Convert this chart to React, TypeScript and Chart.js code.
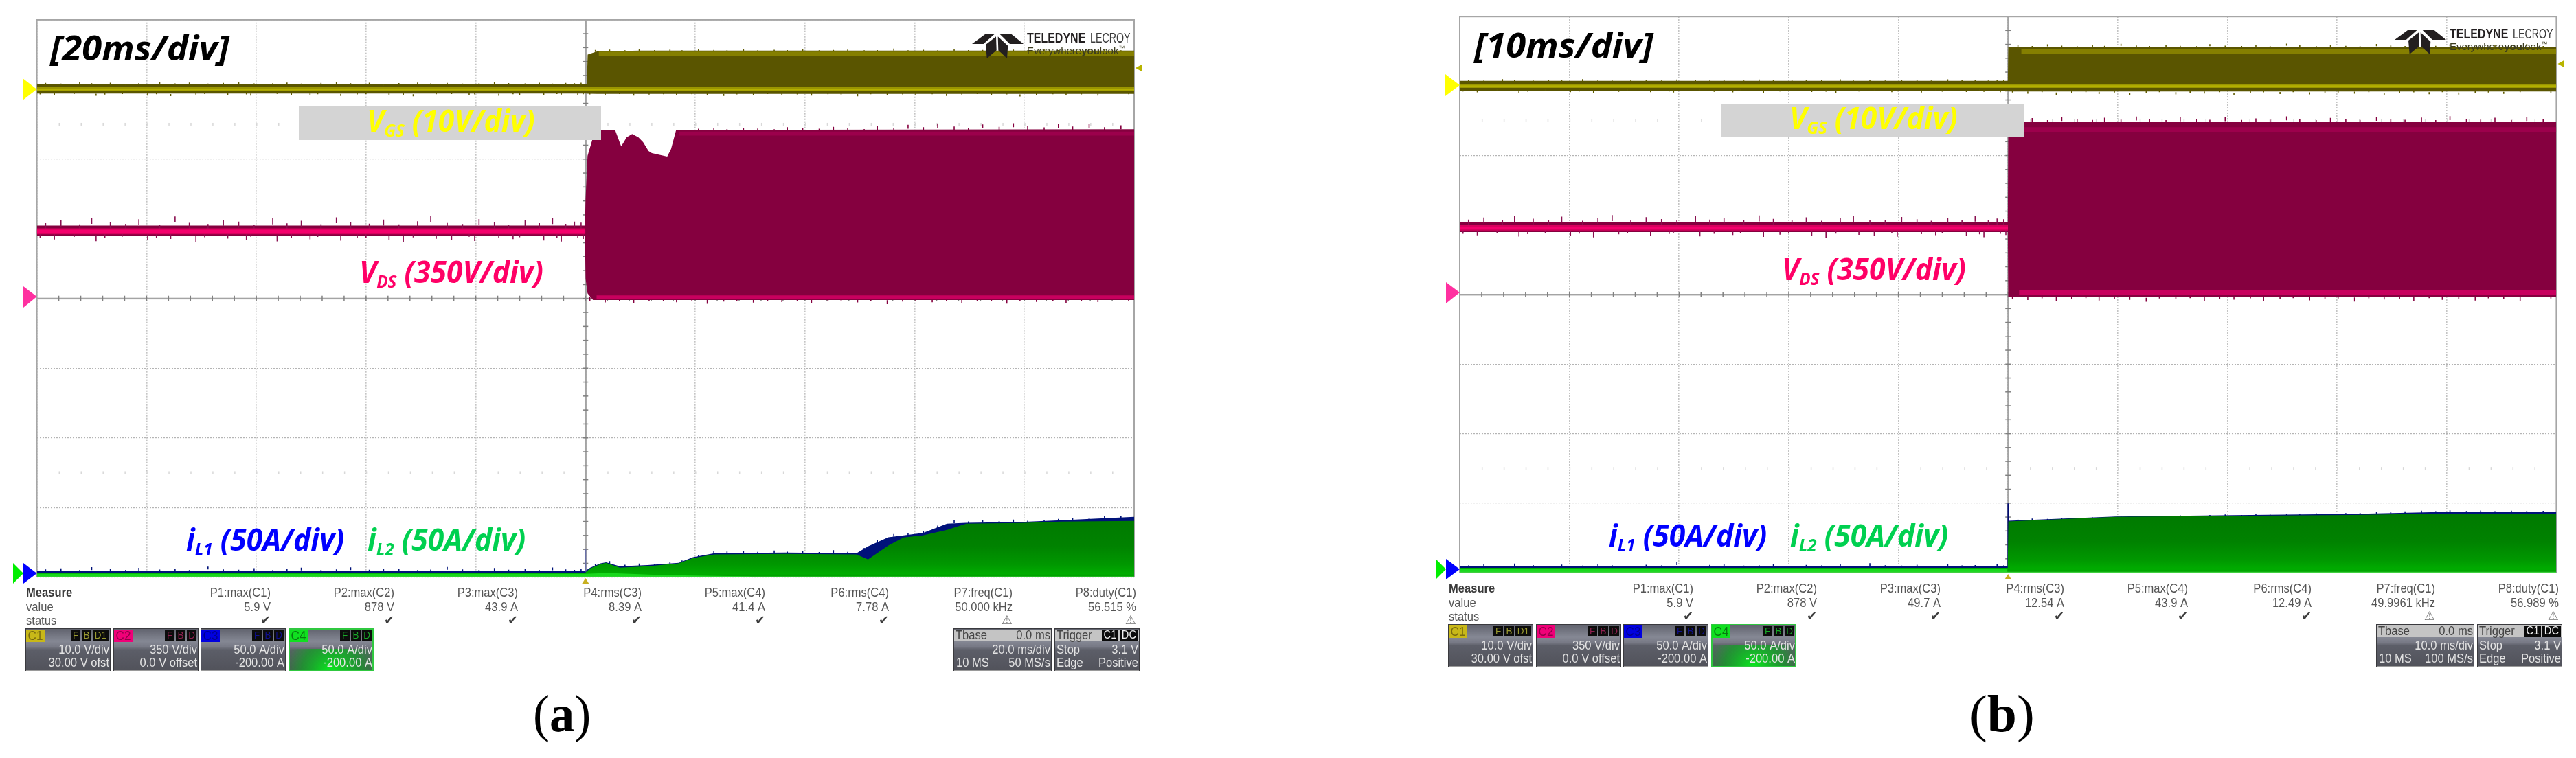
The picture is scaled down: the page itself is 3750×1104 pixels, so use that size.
import React, { useEffect, useRef } from "react";
import { Chart, registerables } from "chart.js";

Chart.register(...registerables);

// ---------- time lists for edge noise, in screen divisions from the trigger ----------
const upperDivsPre = [-4.92,-4.78,-4.61,-4.5,-4.33,-4.19,-4.07,-3.88,-3.74,-3.61,-3.44,-3.3,-3.16,-3.02,-2.85,-2.72,-2.59,-2.41,-2.27,-2.14,-1.97,-1.84,-1.7,-1.53,-1.41,-1.26,-1.12,-0.97,-0.83,-0.7,-0.55,-0.42,-0.3,-0.18,-0.1,-0.04];
const lowerDivsPre = [-4.97,-4.84,-4.66,-4.46,-4.38,-4.22,-3.99,-3.91,-3.78,-3.55,-3.47,-3.26,-3.09,-3.05,-2.81,-2.68,-2.51,-2.44,-2.23,-2.08,-2.0,-1.79,-1.66,-1.57,-1.36,-1.22,-1.06,-1.01,-0.79,-0.66,-0.6,-0.38,-0.26,-0.22,-0.07,-0.02];
const upperDivsPost = [0.09,0.22,0.36,0.49,0.63,0.77,0.88,1.03,1.17,1.29,1.44,1.57,1.72,1.84,1.98,2.13,2.26,2.39,2.54,2.66,2.81,2.94,3.08,3.21,3.36,3.49,3.62,3.77,3.9,4.03,4.18,4.31,4.44,4.59,4.73,4.88];
const lowerDivsPost = [0.04,0.18,0.31,0.44,0.58,0.71,0.83,0.97,1.11,1.26,1.38,1.53,1.66,1.79,1.93,2.06,2.21,2.33,2.48,2.6,2.75,2.89,3.01,3.16,3.29,3.43,3.57,3.7,3.84,3.96,4.11,4.26,4.38,4.52,4.67,4.95];

// ---------- panel (a), 20 ms/div ----------
const c1TimesA = [-100,-50,0.25,0.4,2.1,10,40,100];
const c1TopA = [0.72,0.72,0.72,5.0,5.45,5.55,5.55,5.55];
const c1BottomA = [-0.6,-0.6,-0.6,-0.62,-0.64,-0.64,-0.64,-0.64];
const c1TopPreA = [0.92,0.84,1.01,0.88,0.95,0.82,0.9,1.04,0.86,0.97,0.83,0.93,1.0,0.85,0.89,0.98,0.84,0.92,1.03,0.87,0.95,0.82,0.91,0.99,0.86,0.94,0.83,0.88,1.02,0.9,0.85,0.96,0.84,0.92,0.87,0.95];
const c1BotPreA = [-0.72,-0.85,-0.68,-0.92,-0.75,-0.66,-0.88,-0.7,-0.97,-0.74,-0.67,-0.83,-0.71,-0.9,-0.65,-0.78,-0.86,-0.69,-0.94,-0.73,-0.68,-0.81,-0.76,-0.99,-0.7,-0.66,-0.84,-0.72,-0.91,-0.69,-0.77,-0.87,-0.67,-0.74,-0.82,-0.7];
const c1TopPostA = [5.66,5.72,5.61,5.78,5.64,5.7,5.6,5.83,5.65,5.62,5.74,5.6,5.68,5.63,5.8,5.61,5.66,5.72,5.6,5.64,5.85,5.62,5.68,5.6,5.76,5.63,5.66,5.6,5.7,5.62,5.79,5.64,5.6,5.67,5.73,5.61];
const c1BotPostA = [-0.72,-0.8,-0.68,-0.9,-0.74,-0.7,-0.85,-0.69,-0.78,-0.95,-0.71,-0.76,-0.68,-0.83,-0.73,-0.88,-0.7,-0.75,-0.98,-0.69,-0.79,-0.72,-0.86,-0.7,-0.93,-0.74,-0.68,-0.81,-0.71,-1.02,-0.76,-0.69,-0.84,-0.73,-0.89,-0.7];

const c2TimesA = [-100,-50,-0.1,0.02,0.375,1.38,2.75,5.38,6.51,7.51,8.51,9.64,10.5,11.5,12.1,14.9,15.6,16.5,40,100];
const c2TopA = [366,366,366,500,716,809,844,847,764,809,826,809,785,740,730,713,751,844,847,850];
const c2BottomA = [316,316,316,100,26,-8,-8,-8,-8,-8,-8,-8,-8,-8,-8,-8,-8,-8,-8,-8];
const c2TopPreA = [378,392,372,405,384,375,398,370,412,380,374,395,386,371,402,377,390,373,408,382,376,396,372,388,415,379,374,399,383,371,393,378,404,375,386,381];
const c2BotPreA = [305,296,309,288,303,311,292,306,299,284,308,301,294,310,287,304,297,309,290,302,306,293,283,307,300,295,310,289,304,298,308,291,303,286,306,299];
const c2TopPostA = [null,null,null,null,null,null,null,852,856,851,858,853,850,860,855,852,862,854,851,866,858,872,860,878,864,858,874,862,880,866,859,876,864,878,860,870];
const c2BotPostA = [-14,-20,-12,-24,-15,-11,-19,-13,-27,-16,-12,-21,-14,-18,-11,-25,-15,-13,-20,-12,-29,-16,-14,-19,-11,-23,-15,-13,-26,-12,-17,-14,-22,-11,-18,-13];

const c34TimesA = [-100,-0.1,0.875,2.75,3.75,6.26,11.3,17,19.6,23.5,36.4,49.4,51.5,55.2,58,61.5,65.9,69.4,79.4,86.7,100];
const c3TopA = [4.4,4.4,6.9,9.9,10.7,7.9,8.7,10.3,14.4,17.2,17.7,17.2,22.2,28.7,30,31.7,38.4,39,39.6,40.9,43.3];
const c4TopA = [3,3,6.4,9.4,10.3,6.9,7.9,9.9,13.8,16.3,16.7,16.3,12.8,22.7,28.6,30,34,38.4,38.9,39.9,40.4];
const c3TopPreA = [5.6,6.4,5.2,7.2,5.8,5.3,6.8,5.5,6.1,5.2,7.6,5.7,5.4,6.5,5.2,5.9,6.9,5.3,5.6,7.1,5.4,5.8,6.3,5.2,5.5,7.4,5.7,5.3,6.6,5.4,6.0,5.2,7.0,5.6,5.3,6.2];
const c3TopPostA = [9.5,11.6,9,9.8,9.6,10.8,12,15.6,18.8,18.4,19,18.2,19.2,18.3,18.8,18.1,19.4,18.2,21,26.5,31,31.6,33,37,40.8,40,41,40.2,41.4,40.5,41.2,41.8,42.6,42.7,43.9,43.8];
const c4BrightTimesA = [-100,-0.1,4,14,30];
const c4BrightTopA = [2.4,2.4,3,1.6,0.6];
const c3SpikeA = [4.4, 20.5];

const measureValuesA = ["5.9 V","878 V","43.9 A","8.39 A","41.4 A","7.78 A","50.000 kHz","56.515 %"];

// ---------- panel (b), 10 ms/div ----------
const c1TimesB = [-50,-25,-0.02,0.02,25,50];
const c1TopB = [0.75,0.75,0.75,5.66,5.66,5.66];
const c1BottomB = [-0.7,-0.7,-0.7,-0.8,-0.8,-0.8];
const c1TopPreB = [0.88,0.8,0.98,0.82,0.79,0.92,0.81,1.0,0.84,0.79,0.9,0.83,0.8,0.95,0.82,0.79,0.86,0.8,0.93,0.81,0.79,0.89,0.82,0.97,0.8,0.84,0.79,0.91,0.83,0.8,0.96,0.81,0.85,0.79,0.87,0.82];
const c1BotPreB = [-0.8,-0.92,-0.76,-0.98,-0.82,-0.75,-0.9,-0.78,-1.02,-0.84,-0.76,-0.88,-0.79,-0.95,-0.75,-0.83,-0.91,-0.77,-0.99,-0.8,-0.76,-0.86,-0.81,-1.0,-0.78,-0.75,-0.89,-0.8,-0.94,-0.76,-0.82,-0.87,-0.75,-0.84,-0.9,-0.78];
const c1TopPostB = [5.85,5.76,6.0,5.8,5.74,5.95,5.78,6.08,5.82,5.75,5.92,5.79,5.74,6.02,5.8,5.76,5.9,5.74,6.1,5.84,5.76,5.96,5.78,5.74,6.04,5.82,5.75,5.9,5.77,6.0,5.8,5.74,5.94,5.78,6.06,5.76];
const c1BotPostB = [-0.95,-1.1,-0.9,-1.25,-1.0,-0.88,-1.15,-0.94,-1.3,-1.02,-0.9,-1.2,-0.96,-1.08,-0.88,-1.28,-0.98,-0.92,-1.16,-0.9,-1.22,-1.0,-0.94,-1.12,-0.88,-1.3,-1.04,-0.92,-1.18,-0.9,-1.24,-0.98,-0.94,-1.14,-0.88,-1.06];

const c2TimesB = [-50,-25,-0.02,0.02,25,50];
const c2TopB = [366,366,366,871,871,871];
const c2BottomB = [315,315,315,-14,-14,-14];
const c2TopPreB = [378,388,374,396,382,375,392,372,386,400,376,390,380,373,395,378,386,374,398,381,376,389,372,384,394,377,374,391,379,372,387,376,397,374,383,379];
const c2BotPreB = [306,298,310,292,304,311,295,307,288,303,309,297,305,312,293,306,300,310,290,302,308,296,286,307,301,295,311,291,304,299,309,294,303,289,306,300];
const c2TopPostB = [880,888,878,894,883,879,890,881,896,884,878,892,882,880,893,879,887,881,897,885,878,889,882,879,895,883,880,891,878,898,884,881,890,879,894,882];
const c2BotPostB = [-22,-28,-19,-33,-23,-18,-30,-21,-27,-36,-20,-24,-18,-31,-22,-26,-19,-34,-21,-18,-29,-23,-20,-35,-19,-25,-22,-32,-18,-27,-21,-30,-19,-24,-33,-20];

const c34TimesB = [-50,-0.03,0.03,9.8,20.6,31.4,38.6,50];
const c3TopB = [4.4,4.4,37.3,40.4,41.4,42.2,43.4,43.4];
const c4TopB = [3.4,3.4,36.8,40.1,40.9,41.5,42.4,42.4];
const c3TopPreB = [5.2,6,5,6.6,5.4,5,5.8,5.1,6.2,5.3,5,5.7,5.2,7.4,5,5.5,6,5.1,5.3,6.4,5,5.6,5.2,5.9,5,6.8,5.3,5.1,5.7,5,6.1,5.2,5.4,5,6.3,5.2];
const c3TopPostB = [38.2,38.9,38.6,39.2,39.0,39.8,39.4,40.4,40.1,40.9,40.6,41.2,41.0,41.5,41.8,41.5,42.0,41.7,42.3,42.1,42.7,42.5,42.9,43.0,43.6,43.9,44.1,44.6,44.2,44.8,44.3,44.7,44.2,44.6,44.3,44.5];
const c4BrightTimesB = [-50,-0.05];
const c4BrightTopB = [2.9,2.9];
const c3SpikeB = [4.4, 49.7];

const measureValuesB = ["5.9 V","878 V","49.7 A","12.54 A","43.9 A","12.49 A","49.9961 kHz","56.989 %"];

// ---------- shared text ----------
const measureNames = ["P1:max(C1)","P2:max(C2)","P3:max(C3)","P4:rms(C3)","P5:max(C4)","P6:rms(C4)","P7:freq(C1)","P8:duty(C1)"];
const measureStatus = ["✔","✔","✔","✔","✔","✔","⚠","⚠"];
const channelLabels = ["C1","C2","C3","C4"];
const channelFlags = [["F","B","D1"],["F","B","D"],["F","B","D"],["F","B","D"]];
const channelScales = ["10.0 V/div","350 V/div","50.0 A/div","50.0 A/div"];
const channelOffsets = ["30.00 V ofst","0.0 V offset","-200.00 A","-200.00 A"];

const LAYOUT = { width: 1700, height: 1110 };
const SANS = '"Liberation Sans"';
const LABEL = '"Open Sans"';
const SERIF = '"Liberation Serif"';
const LABEL_SX = 0.97;

type Pt = { x: number; y: number | null };
const pts = (xs: number[], ys: number[] | number): Pt[] =>
  xs.map((x, i) => ({ x, y: typeof ys === "number" ? ys : ys[i] }));

function spikes(divs: number[], tips: (number | null)[], drop: number, msPerDiv: number): Pt[] {
  const out: Pt[] = [];
  divs.forEach((d, i) => {
    const tip = tips[i];
    if (tip == null) return;
    const x = d * msPerDiv;
    out.push({ x, y: tip - drop }, { x, y: tip }, { x, y: null });
  });
  return out;
}

function band(xs: number[], top: number[] | number, bottom: number[] | number, color: any, axis: string) {
  const base = { type: "line", yAxisID: axis, pointRadius: 0, tension: 0 };
  return [
    { ...base, data: pts(xs, top), borderWidth: 0, fill: false },
    { ...base, data: pts(xs, bottom), borderWidth: 0, fill: "-1", backgroundColor: color },
  ];
}

function spikeSet(data: Pt[], color: string, axis: string) {
  return { type: "line", yAxisID: axis, pointRadius: 0, tension: 0, data, borderWidth: 1.6, borderColor: color, fill: false, spanGaps: false };
}

function greenFill(c: any) {
  const { chart } = c;
  const s = chart.scales.c3;
  if (!s || !chart.chartArea) return "#008000";
  const g = chart.ctx.createLinearGradient(0, s.getPixelForValue(50), 0, s.getPixelForValue(0));
  g.addColorStop(0, "#007600");
  g.addColorStop(0.55, "#008200");
  g.addColorStop(0.82, "#009800");
  g.addColorStop(0.95, "#00ac00");
  g.addColorStop(1, "#009c00");
  return g;
}

function T(ctx: CanvasRenderingContext2D, text: string, x: number, y: number, font: string, color: string, align: CanvasTextAlign = "left", sx = 1) {
  ctx.save();
  ctx.translate(x, y);
  ctx.scale(sx, 1);
  ctx.font = font;
  ctx.fillStyle = color;
  ctx.textAlign = align;
  ctx.textBaseline = "middle";
  ctx.fillText(text, 0, 0);
  ctx.restore();
}

type Span = { t: string; size: number; dy?: number; weight?: string; sx?: number };
function spans(ctx: CanvasRenderingContext2D, x: number, baseY: number, parts: Span[], color: string, family: string, style: string, defaultSx: number) {
  let cx = x;
  ctx.textBaseline = "alphabetic";
  ctx.textAlign = "left";
  parts.forEach((p) => {
    const s = p.sx ?? defaultSx;
    ctx.save();
    ctx.font = `${style} ${p.weight ?? "700"} ${p.size}px ${family}`;
    ctx.fillStyle = color;
    const w = ctx.measureText(p.t).width;
    ctx.translate(cx, baseY + (p.dy ?? 0));
    ctx.scale(s, 1);
    ctx.fillText(p.t, 0, 0);
    ctx.restore();
    cx += w * s;
  });
}

function poly(ctx: CanvasRenderingContext2D, p: number[][], color: string) {
  ctx.beginPath();
  p.forEach(([x, y], i) => (i ? ctx.lineTo(x, y) : ctx.moveTo(x, y)));
  ctx.closePath();
  ctx.fillStyle = color;
  ctx.fill();
}

function panelBox(ctx: CanvasRenderingContext2D, x0: number, x1: number, y0: number, y1: number) {
  const g = ctx.createLinearGradient(0, y0, 0, y1);
  g.addColorStop(0, "#5f616c");
  g.addColorStop(0.3, "#858894");
  g.addColorStop(0.42, "#787a86");
  g.addColorStop(0.5, "#5c5e68");
  g.addColorStop(1, "#51525a");
  ctx.fillStyle = g;
  ctx.fillRect(x0, y0, x1 - x0, y1 - y0);
  ctx.fillStyle = "#9a9a9a";
  ctx.fillRect(x0, y1 - 2, x1 - x0, 2);
  ctx.strokeStyle = "#3a3a3e";
  ctx.lineWidth = 1;
  ctx.strokeRect(x0 + 0.5, y0 + 0.5, x1 - x0 - 1, y1 - y0 - 1);
}

const chanColors = [
  { badge: "#c8b818", ink: "#7a6c10", flag: "#9a9a30" },
  { badge: "#f00078", ink: "#900048", flag: "#902050" },
  { badge: "#0000e0", ink: "#000090", flag: "#101090" },
  { badge: "#10e020", ink: "#087a10", flag: "#18a828" },
];

function makePlugin(p: any) {
  return {
    id: "scope",
    beforeDatasetsDraw(chart: any) {
      const { ctx, chartArea: a, scales } = chart;
      const cx = scales.x.getPixelForValue(0);
      const cy = scales.y.getPixelForValue(0);
      const divX = (a.right - a.left) / 10;
      const divY = (a.bottom - a.top) / 8;
      ctx.save();
      ctx.fillStyle = "#d8d8d8";
      [875, -875].forEach((v) => {
        const yy = scales.y.getPixelForValue(v);
        for (let i = 1; i < 50; i++) ctx.fillRect(a.left + (i * divX) / 5, yy - 2, 1.5, 4);
      });
      ctx.fillStyle = "#a4a4a4";
      ctx.fillRect(a.left, cy - 1, a.right - a.left, 2.4);
      ctx.fillRect(cx - 1, a.top, 2.6, a.bottom - a.top);
      ctx.fillStyle = "#808080";
      for (let i = 1; i < 50; i++) ctx.fillRect(a.left + (i * divX) / 5 - 0.7, cy - 4, 1.5, 8);
      for (let i = 1; i < 40; i++) ctx.fillRect(cx - 4, a.top + (i * divY) / 5 - 0.7, 8, 1.5);
      ctx.fillStyle = "#a6a6a6";
      ctx.fillRect(a.left - 1, a.top - 1, a.right - a.left + 2, 2.2);
      ctx.fillRect(a.left - 1, a.top - 1, 2, a.bottom - a.top + 1);
      ctx.fillRect(a.right - 1, a.top - 1, 2, a.bottom - a.top + 1);
      ctx.restore();
    },
    afterDatasetsDraw(chart: any) {
      const { ctx, chartArea: a, scales } = chart;
      const cx = scales.x.getPixelForValue(0);
      ctx.save();
      const ink = "#231f20";
      poly(ctx, [[1415,64],[1435,49.3],[1448.3,49.3],[1431.7,64]], ink);
      poly(ctx, [[1455,49.3],[1471.7,49.3],[1490,64],[1470,64]], ink);
      poly(ctx, [[1435,65],[1450,53.3],[1450.7,73.3],[1436.7,85]], ink);
      poly(ctx, [[1452.7,53.3],[1467.3,66.7],[1466,85],[1453.3,73.3]], ink);
      T(ctx, "TELEDYNE", 1495, 56.5, `bold 19.5px ${SANS}`, ink, "left", 0.82);
      T(ctx, "LECROY", 1587, 56.5, `19.5px ${SANS}`, "#3a3a3a", "left", 0.73);
      spans(ctx, 1495, 79, [
        { t: "Everywhere", size: 15, weight: "400" },
        { t: "you", size: 15, weight: "700" },
        { t: "look", size: 15, weight: "400" },
        { t: "™", size: 9, weight: "400", dy: -6 },
      ], "#3c3c20", SANS, "normal", 1.0);

      poly(ctx, [[33, 114], [a.left, 130], [33, 146]], "#ffff00");
      poly(ctx, [[34, 417], [a.left, 432], [34, 448]], "#ff30a0");
      poly(ctx, [[19, 820], [34, 835], [19, 850]], "#00ee00");
      poly(ctx, [[34, 820], [a.left, 835], [34, 850]], "#0000ff");
      poly(ctx, [[a.right + 11, 94], [a.right + 2, 99], [a.right + 11, 104]], "#b8b400");
      poly(ctx, [[cx, 842], [cx - 5, 850], [cx + 5, 850]], "#c8b020");

      spans(ctx, 73 + p.titleDx, 88 + p.titleDy, [{ t: p.title, size: 50 }], "#000000", LABEL, "italic", 1.05);
      ctx.fillStyle = "#d4d4d4";
      ctx.fillRect(435, 155 + p.boxDy, 440, 49);
      spans(ctx, 534, 192 + p.boxDy, [
        { t: "V", size: 44 },
        { t: "GS", size: 25, dy: 7 },
        { t: " (10V/div)", size: 44 },
      ], "#ffff00", LABEL, "italic", LABEL_SX);
      spans(ctx, 523, 412 + p.boxDy, [
        { t: "V", size: 44 },
        { t: "DS", size: 25, dy: 7 },
        { t: " (350V/div)", size: 44 },
      ], "#ff0066", LABEL, "italic", LABEL_SX);
      spans(ctx, 271, 802, [
        { t: "i", size: 44 },
        { t: "L1", size: 25, dy: 7 },
        { t: " (50A/div)", size: 44 },
      ], "#0000ff", LABEL, "italic", LABEL_SX);
      spans(ctx, 535, 802, [
        { t: "i", size: 44 },
        { t: "L2", size: 25, dy: 7 },
        { t: " (50A/div)", size: 44 },
      ], "#00d050", LABEL, "italic", LABEL_SX);

      const body = `18px ${SANS}`;
      T(ctx, "Measure", 38, 864, `bold 18px ${SANS}`, "#3a3a3a", "left", 0.92);
      T(ctx, "value", 38, 885, body, "#555555", "left", 0.92);
      T(ctx, "status", 38, 905, body, "#555555", "left", 0.92);
      measureNames.forEach((n, i) => {
        const xr = 394 + i * 180;
        T(ctx, n, xr, 864, body, "#555555", "right", 0.92);
        T(ctx, p.measureValues[i], xr, 885, body, "#555555", "right", 0.92);
        T(ctx, measureStatus[i], xr, 904, `18px "DejaVu Sans"`, measureStatus[i] === "✔" ? "#3c3c3c" : "#777777", "right", 1);
      });

      const boxX = [37, 165, 292, 420];
      channelLabels.forEach((c, i) => {
        const x0 = boxX[i];
        const x1 = x0 + 124;
        panelBox(ctx, x0, x1, 915, 978);
        const col = chanColors[i];
        if (i === 3) {
          const g = ctx.createRadialGradient((x0 + x1) / 2, 980, 4, (x0 + x1) / 2, 980, 70);
          g.addColorStop(0, "rgba(10,230,30,1)");
          g.addColorStop(0.6, "rgba(10,170,30,0.65)");
          g.addColorStop(1, "rgba(10,170,30,0)");
          ctx.fillStyle = g;
          ctx.fillRect(x0, 945, 124, 33);
          ctx.strokeStyle = "#30c840";
          ctx.lineWidth = 2;
          ctx.strokeRect(x0 + 1, 916, 122, 61);
        }
        ctx.fillStyle = col.badge;
        ctx.fillRect(x0 + 1, 917, 27, 18);
        T(ctx, c, x0 + 14.5, 926.5, `19px ${SANS}`, col.ink, "center", 0.9);
        const flags = channelFlags[i];
        const widths = flags.map((f) => (f.length > 1 ? 23 : 14));
        let fx = x1 - 3 - widths.reduce((s, w) => s + w + 2, -2);
        flags.forEach((f, k) => {
          ctx.fillStyle = "#0c0c0c";
          ctx.fillRect(fx, 918, widths[k], 15);
          T(ctx, f, fx + widths[k] / 2, 926, `15px ${SANS}`, col.flag, "center", 0.9);
          fx += widths[k] + 2;
        });
        T(ctx, channelScales[i], x1 - 2, 947, body, "#e4e4e4", "right", 0.92);
        T(ctx, channelOffsets[i], x1 - 2, 966, body, "#e4e4e4", "right", 0.92);
      });

      const rows = (x0: number, x1: number) => {
        panelBox(ctx, x0, x1, 915, 978);
        ctx.fillStyle = "#c4c4c4";
        ctx.fillRect(x0 + 1, 917, x1 - x0 - 2, 17);
      };
      rows(1388, 1531);
      T(ctx, "Tbase", 1391, 926, body, "#444444", "left", 0.92);
      T(ctx, "0.0 ms", 1529, 926, body, "#444444", "right", 0.92);
      T(ctx, p.tdiv, 1529, 947, body, "#e4e4e4", "right", 0.92);
      T(ctx, "10 MS", 1392, 966, body, "#e4e4e4", "left", 0.92);
      T(ctx, p.srate, 1529, 966, body, "#e4e4e4", "right", 0.92);
      rows(1535, 1659);
      T(ctx, "Trigger", 1538, 926, body, "#444444", "left", 0.92);
      ctx.fillStyle = "#0a0a0a";
      ctx.fillRect(1604, 918, 24, 16);
      ctx.fillRect(1630, 918, 27, 16);
      T(ctx, "C1", 1616, 926, `16px ${SANS}`, "#f0f0f0", "center", 0.92);
      T(ctx, "DC", 1643.5, 926, `16px ${SANS}`, "#f0f0f0", "center", 0.92);
      T(ctx, "Stop", 1538, 947, body, "#e4e4e4", "left", 0.92);
      T(ctx, "3.1 V", 1657, 947, body, "#e4e4e4", "right", 0.92);
      T(ctx, "Edge", 1538, 966, body, "#e4e4e4", "left", 0.92);
      T(ctx, "Positive", 1657, 966, body, "#e4e4e4", "right", 0.92);

      spans(ctx, p.capX, p.capY, [
        { t: "(", size: 76, weight: "400" },
        { t: p.capLetter, size: 76, weight: "700" },
        { t: ")", size: 76, weight: "400" },
      ], "#000000", SERIF, "normal", p.capSx);
      ctx.restore();
    },
  };
}

function buildDatasets(p: any) {
  const ms = p.msPerDiv;
  const tMin = -5 * ms;
  const tMax = 5 * ms;
  const ds: any[] = [
    ...band(p.c1Times, p.c1Top, p.c1Bottom, "#5a5500", "c1"),
    spikeSet(spikes(upperDivsPre, p.c1TopPre, 0.3, ms), "#5f5a00", "c1"),
    spikeSet(spikes(lowerDivsPre, p.c1BotPre, -0.3, ms), "#5f5a00", "c1"),
    spikeSet(spikes(upperDivsPost, p.c1TopPost, 0.3, ms), "#5f5a00", "c1"),
    spikeSet(spikes(lowerDivsPost, p.c1BotPost, -0.3, ms), "#5f5a00", "c1"),
    ...band([0.12 * ms, tMax], p.c1UpperBand[0], p.c1UpperBand[1], "#857f00", "c1"),
    ...band([tMin, tMax], 0.33, -0.28, "#9a9600", "c1"),
    ...band([tMin, tMax], 0.1, -0.12, "#b4b000", "c1"),
    ...band(p.c2Times, p.c2Top, p.c2Bottom, "#85003f", "y"),
    spikeSet(spikes(upperDivsPre, p.c2TopPre, 30, ms), "#8a1050", "y"),
    spikeSet(spikes(lowerDivsPre, p.c2BotPre, -30, ms), "#8a1050", "y"),
    spikeSet(spikes(upperDivsPost, p.c2TopPost, 20, ms), "#85003f", "y"),
    spikeSet(spikes(lowerDivsPost, p.c2BotPost, -20, ms), "#85003f", "y"),
    ...band([tMin, -0.01], p.c2PreCore[0], p.c2PreCore[1], "#d8005e", "y"),
    ...band([tMin, -0.01], p.c2PreCore[2], p.c2PreCore[3], "#f4006c", "y"),
    ...band([p.c2UpperStart, tMax], p.c2UpperBand[0], p.c2UpperBand[1], "#9c004c", "y"),
    ...band([0.1 * ms, tMax], p.c2LowerBand[0], p.c2LowerBand[1], "#c8005e", "y"),
    ...band(p.c34Times, p.c3Top, 0, "#00127a", "c3"),
    spikeSet(spikes(upperDivsPre, p.c3TopPre, 2, ms), "#00127a", "c3"),
    spikeSet(spikes(upperDivsPost, p.c3TopPost, 2, ms), "#00127a", "c3"),
    { type: "line", yAxisID: "c3", pointRadius: 0, borderWidth: 2, borderColor: p.c3SpikeColor, fill: false, data: [{ x: -0.01, y: p.c3Spike[0] }, { x: 0.01, y: p.c3Spike[1] }] },
    ...band(p.c34Times, p.c4Top, 0, greenFill, "c3"),
    ...band(p.c4BrightTimes, p.c4BrightTop, 0, "#18d81c", "c3"),
    ...band([tMin, tMax], 0.6, 0, "#40d040", "c3"),
  ];
  const n = ds.length;
  ds.forEach((d, i) => (d.order = n - i));
  return ds;
}

function makeConfig(p: any) {
  const hidden = { display: false, stepSize: 1 };
  return {
    type: "line",
    data: { datasets: buildDatasets(p) },
    options: {
      animation: false,
      responsive: false,
      events: [],
      layout: { padding: { left: p.left, top: p.top, right: LAYOUT.width - p.right, bottom: LAYOUT.height - p.bottom } },
      plugins: { legend: { display: false }, tooltip: { enabled: false } },
      scales: {
        x: {
          type: "linear",
          min: -5 * p.msPerDiv,
          max: 5 * p.msPerDiv,
          ticks: { display: false, stepSize: p.msPerDiv },
          grid: { color: "#c4c4c4", lineWidth: 1.6, drawTicks: false },
          border: { display: false, dash: [2, 2] },
        },
        y: {
          min: -1400,
          max: 1400,
          ticks: { display: false, stepSize: 350 },
          grid: { color: "#b4b4b4", lineWidth: 1.2, drawTicks: false },
          border: { display: false, dash: [2, 2] },
        },
        c1: { display: false, min: -70, max: 10, ticks: hidden },
        c3: { display: false, min: 0, max: 400, ticks: hidden },
      },
    },
    plugins: [makePlugin(p)],
  };
}

const panelA = {
  msPerDiv: 20, left: 53.6, top: 28.7, right: 1651, bottom: 840.7,
  title: "[20ms/div]", titleDx: 0, titleDy: 0, boxDy: 0,
  tdiv: "20.0 ms/div", srate: "50 MS/s", measureValues: measureValuesA,
  capX: 776, capY: 1065, capLetter: "a", capSx: 0.95,
  c1Times: c1TimesA, c1Top: c1TopA, c1Bottom: c1BottomA, c1TopPre: c1TopPreA, c1BotPre: c1BotPreA, c1TopPost: c1TopPostA, c1BotPost: c1BotPostA,
  c1UpperBand: [5.42, 4.8],
  c2Times: c2TimesA, c2Top: c2TopA, c2Bottom: c2BottomA, c2TopPre: c2TopPreA, c2BotPre: c2BotPreA, c2TopPost: c2TopPostA, c2BotPost: c2BotPostA,
  c2PreCore: [352, 322, 345, 328], c2UpperBand: [838, 818], c2LowerBand: [15, -2], c2UpperStart: 17,
  c34Times: c34TimesA, c3Top: c3TopA, c4Top: c4TopA, c3TopPre: c3TopPreA, c3TopPost: c3TopPostA,
  c3Spike: c3SpikeA, c3SpikeColor: "#6a70a8", c4BrightTimes: c4BrightTimesA, c4BrightTop: c4BrightTopA,
};

const panelB = {
  msPerDiv: 10, left: 54, top: 30, right: 1650.4, bottom: 840,
  title: "[10ms/div]", titleDx: 2, titleDy: 2, boxDy: 2,
  tdiv: "10.0 ms/div", srate: "100 MS/s", measureValues: measureValuesB,
  capX: 796, capY: 1071, capLetter: "b", capSx: 1.02,
  c1Times: c1TimesB, c1Top: c1TopB, c1Bottom: c1BottomB, c1TopPre: c1TopPreB, c1BotPre: c1BotPreB, c1TopPost: c1TopPostB, c1BotPost: c1BotPostB,
  c1UpperBand: [5.26, 4.67],
  c2Times: c2TimesB, c2Top: c2TopB, c2Bottom: c2BottomB, c2TopPre: c2TopPreB, c2BotPre: c2BotPreB, c2TopPost: c2TopPostB, c2BotPost: c2BotPostB,
  c2PreCore: [350, 322, 342, 328], c2UpperBand: [843, 819], c2LowerBand: [21, -3], c2UpperStart: 0.02,
  c34Times: c34TimesB, c3Top: c3TopB, c4Top: c4TopB, c3TopPre: c3TopPreB, c3TopPost: c3TopPostB,
  c3Spike: c3SpikeB, c3SpikeColor: "#000a70", c4BrightTimes: c4BrightTimesB, c4BrightTop: c4BrightTopB,
};

function Scope({ panel, left, top }: { panel: any; left: number; top: number }) {
  const ref = useRef<HTMLCanvasElement | null>(null);
  useEffect(() => {
    const chart = new Chart(ref.current as any, makeConfig(panel) as any);
    return () => chart.destroy();
  }, [panel]);
  return (
    <canvas
      ref={ref}
      width={LAYOUT.width}
      height={LAYOUT.height}
      style={{ position: "absolute", left, top, width: LAYOUT.width, height: LAYOUT.height, display: "block" }}
    />
  );
}

export default function App() {
  return (
    <div style={{ position: "absolute", left: 0, top: 0, width: 3750, height: 1104, overflow: "hidden", background: "#ffffff" }}>
      <Scope panel={panelA} left={0} top={0} />
      <Scope panel={panelB} left={2071} top={-6} />
    </div>
  );
}
